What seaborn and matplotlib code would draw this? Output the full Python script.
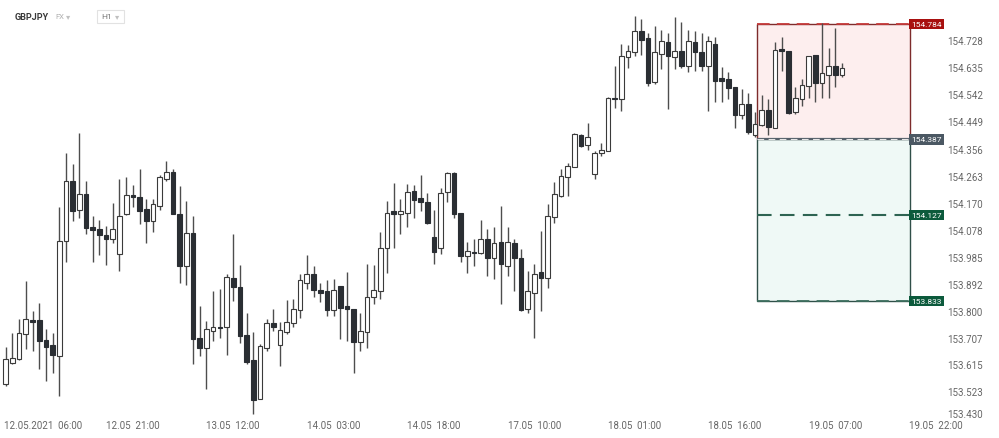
import numpy as np
import pandas as pd
import matplotlib
matplotlib.use('Agg')
import matplotlib.pyplot as plt
import matplotlib.transforms as mtransforms
from matplotlib.patches import Rectangle
import seaborn as sns

# GBPJPY H1 candles
opens = [153.549, 153.621, 153.633, 153.721, 153.768, 153.766, 153.698, 153.681, 153.644, 154.037,
         154.243, 154.144, 154.199, 154.087, 154.079, 154.059, 154.045, 153.993, 154.131, 154.196,
         154.191, 154.148, 154.108, 154.159, 154.253, 154.276, 154.131, 153.953, 154.065, 153.705,
         153.673, 153.730, 153.745, 153.742, 153.911, 153.882, 153.716, 153.631, 153.498, 153.671,
         153.757, 153.682, 153.727, 153.759, 153.802, 153.896, 153.927, 153.870, 153.866, 153.802,
         153.884, 153.814, 153.805, 153.693, 153.725, 153.848, 153.868, 154.013, 154.141, 154.131,
         154.136, 154.210, 154.185, 154.174, 154.051, 154.013, 154.207, 154.272, 154.136, 153.988,
         154.002, 153.999, 154.045, 153.979, 154.034, 153.953, 154.031, 153.982, 153.807, 153.862,
         153.933, 153.913, 154.122, 154.194, 154.257, 154.294, 154.403, 154.368, 154.270, 154.340,
         154.348, 154.531, 154.526, 154.671, 154.688, 154.760, 154.735, 154.583, 154.682, 154.720,
         154.669, 154.689, 154.640, 154.720, 154.688, 154.640, 154.714, 154.598, 154.594, 154.566,
         154.471, 154.508, 154.402, 154.437, 154.488, 154.428, 154.697, 154.692, 154.480, 154.526,
         154.569, 154.677, 154.580, 154.608, 154.638, 154.609]
highs = [153.676, 153.724, 153.770, 153.902, 153.799, 153.827, 153.738, 153.724, 154.157, 154.339,
         154.302, 154.409, 154.243, 154.123, 154.111, 154.091, 154.168, 154.253, 154.257, 154.231,
         154.285, 154.182, 154.182, 154.265, 154.314, 154.285, 154.228, 154.177, 154.125, 153.816,
         153.765, 153.868, 153.873, 153.925, 154.062, 153.957, 153.793, 153.725, 153.685, 153.770,
         153.807, 153.761, 153.837, 153.841, 153.925, 153.990, 153.953, 153.896, 153.904, 153.910,
         153.885, 153.934, 153.805, 153.791, 153.959, 153.957, 154.070, 154.177, 154.237, 154.182,
         154.234, 154.231, 154.265, 154.202, 154.146, 154.222, 154.276, 154.276, 154.136, 154.034,
         154.045, 154.111, 154.079, 154.088, 154.159, 154.088, 154.047, 154.011, 153.936, 153.959,
         154.074, 154.165, 154.240, 154.285, 154.308, 154.409, 154.405, 154.443, 154.348, 154.374,
         154.534, 154.640, 154.714, 154.712, 154.809, 154.802, 154.754, 154.775, 154.764, 154.752,
         154.806, 154.789, 154.764, 154.760, 154.751, 154.741, 154.737, 154.634, 154.619, 154.566,
         154.560, 154.548, 154.480, 154.539, 154.526, 154.720, 154.737, 154.692, 154.566, 154.594,
         154.674, 154.677, 154.785, 154.700, 154.769, 154.651]
lows = [153.541, 153.616, 153.631, 153.667, 153.661, 153.599, 153.559, 153.585, 153.507, 153.965,
        154.108, 154.119, 154.062, 153.967, 153.991, 153.957, 154.033, 153.936, 154.128, 154.157,
        154.096, 154.033, 154.070, 154.144, 154.245, 154.131, 153.896, 153.888, 153.618, 153.644,
        153.532, 153.696, 153.707, 153.647, 153.833, 153.690, 153.616, 153.444, 153.496, 153.662,
        153.730, 153.610, 153.719, 153.745, 153.773, 153.873, 153.845, 153.828, 153.782, 153.782,
        153.704, 153.696, 153.587, 153.662, 153.671, 153.824, 153.839, 153.930, 154.014, 154.062,
        154.088, 154.119, 154.142, 154.096, 153.959, 153.993, 154.171, 154.119, 153.965, 153.930,
        153.953, 153.993, 153.917, 153.910, 153.822, 153.919, 153.868, 153.799, 153.793, 153.707,
        153.799, 153.879, 154.102, 154.188, 154.194, 154.291, 154.360, 154.352, 154.253, 154.331,
        154.346, 154.494, 154.486, 154.631, 154.674, 154.677, 154.569, 154.577, 154.629, 154.491,
        154.629, 154.631, 154.619, 154.623, 154.623, 154.486, 154.514, 154.514, 154.526, 154.428,
        154.457, 154.405, 154.394, 154.434, 154.402, 154.425, 154.623, 154.474, 154.474, 154.503,
        154.531, 154.516, 154.528, 154.531, 154.566, 154.600]
closes = [153.633, 153.639, 153.724, 153.770, 153.762, 153.696, 153.675, 153.648, 154.039, 154.243,
          154.142, 154.199, 154.082, 154.077, 154.060, 154.045, 154.079, 154.125, 154.198, 154.189,
          154.142, 154.108, 154.165, 154.257, 154.276, 154.131, 153.953, 154.065, 153.704, 153.673,
          153.738, 153.745, 153.739, 153.916, 153.881, 153.713, 153.624, 153.493, 153.677, 153.759,
          153.745, 153.735, 153.761, 153.807, 153.904, 153.927, 153.871, 153.862, 153.802, 153.870,
          153.809, 153.807, 153.693, 153.729, 153.848, 153.870, 154.013, 154.136, 154.133, 154.141,
          154.207, 154.180, 154.171, 154.100, 154.002, 154.205, 154.272, 154.132, 153.988, 154.003,
          153.996, 154.047, 153.979, 154.031, 153.959, 154.034, 153.982, 153.802, 153.868, 153.925,
          153.913, 154.125, 154.199, 154.262, 154.297, 154.405, 154.365, 154.394, 154.342, 154.350,
          154.531, 154.526, 154.672, 154.689, 154.760, 154.729, 154.580, 154.686, 154.724, 154.674,
          154.689, 154.640, 154.724, 154.686, 154.640, 154.724, 154.589, 154.589, 154.562, 154.471,
          154.508, 154.413, 154.440, 154.488, 154.431, 154.695, 154.690, 154.478, 154.528, 154.574,
          154.672, 154.580, 154.615, 154.638, 154.609, 154.632]

time_labels = ['12.05.2021  06:00', '12.05  21:00', '13.05  12:00', '14.05  03:00', '14.05  18:00',
               '17.05  10:00', '18.05  01:00', '18.05  16:00', '19.05  07:00', '19.05  22:00']
price_ticks = [153.430, 153.523, 153.615, 153.707, 153.800, 153.892, 153.985, 154.078,
               154.170, 154.263, 154.356, 154.449, 154.542, 154.635, 154.728]

# trade box: take profit / entry / stop levels
tp_level = 154.784
entry_level = 154.387
mid_level = 154.127
sl_level = 153.833
box_bars = (112.3, 135.2)

df = pd.DataFrame({'open': opens, 'high': highs, 'low': lows, 'close': closes})
df['bar'] = np.arange(len(df))
up = df[df.close >= df.open]
down = df[df.close < df.open]

sns.set_theme(style='white')
plt.rcParams['font.family'] = ['Roboto', 'DejaVu Sans']

fig = plt.figure(figsize=(9.99, 4.39), dpi=100)
ax = fig.add_axes([0, 19 / 439, 940 / 999, 420 / 439])

# boxes
x0, x1 = box_bars
ax.add_patch(Rectangle((x0, entry_level), x1 - x0, tp_level - entry_level,
                       facecolor='#fdeeee', edgecolor='#7d2b2b', lw=1, zorder=1))
ax.add_patch(Rectangle((x0, sl_level), x1 - x0, entry_level - sl_level,
                       facecolor='#eff9f6', edgecolor='#2f4f48', lw=1, zorder=1))
ax.hlines(tp_level, x0, x1, color='#c43a3a', lw=1.3, linestyles=(0, (7, 4)), zorder=1.5)
ax.hlines(entry_level, x0, x1, color='#56606a', lw=1.6, zorder=1.5)
ax.hlines(entry_level, x0, x1, color='#e6e6e6', lw=0.8, linestyles=(0, (6, 4)), zorder=1.6)
ax.hlines(mid_level, x0, x1, color='#2e6452', lw=1.5, linestyles=(0, (7, 4)), zorder=1.5)
ax.hlines(sl_level, x0, x1, color='#3d6e5e', lw=1.3, linestyles=(0, (7, 4)), zorder=1.5)

# candles
ax.vlines(df.bar, df.low, df.high, color='#4d4d4d', lw=1, zorder=2)
ax.bar(up.bar, (up.close - up.open).clip(lower=0.004), bottom=up.open, width=0.7,
       color='white', edgecolor='#3a3a3a', lw=0.8, zorder=3)
ax.bar(down.bar, (down.open - down.close).clip(lower=0.004), bottom=down.close, width=0.7,
       color='#2a2e33', edgecolor='#2a2e33', lw=0.8, zorder=3)

# level labels
for lvl, col in [(tp_level, '#a8100f'), (entry_level, '#4b5863'),
                 (mid_level, '#0c5a3c'), (sl_level, '#0c5a3c')]:
    ax.text(x1 + 0.15, lvl, f'{lvl:.3f}', color='white', fontsize=6, ha='left', va='center',
            clip_on=False, zorder=5,
            bbox=dict(boxstyle='square,pad=0.25', facecolor=col, edgecolor='none'))

ax.set_xlim(-0.86, 139.64)
ax.set_ylim(153.428, 154.869)
ax.yaxis.tick_right()
ax.set_yticks(price_ticks)
ax.set_yticklabels([f'{p:.3f}' for p in price_ticks])
ax.set_xticks(np.arange(4, 140, 15))
ax.set_xticklabels(time_labels)
ax.tick_params(axis='y', length=0, pad=5, labelsize=7, labelcolor='#666666')
ax.tick_params(axis='x', length=0, pad=1, labelsize=7, labelcolor='#666666')
first = ax.get_xticklabels()[0]
first.set_transform(first.get_transform() + mtransforms.ScaledTranslation(10.5 / 100, 0, fig.dpi_scale_trans))
# lowest price label sits a little higher, clear of the time axis
lowest = ax.get_yticklabels()[0]
lowest.set_transform(lowest.get_transform() + mtransforms.ScaledTranslation(0, 5 / 100, fig.dpi_scale_trans))
for s in ax.spines.values():
    s.set_visible(False)
ax.grid(False)

# header
fig.text(15 / 999, 1 - 17 / 439, 'GBPJPY', fontsize=6.5, fontweight='bold', color='#3a3a3a', va='center')
fig.text(55 / 999, 1 - 17 / 439, 'FX', fontsize=5.5, color='#b0b0b0', va='center')
fig.text(66 / 999, 1 - 17 / 439, '▾', fontsize=6, color='#c0c0c0', va='center')
fig.patches.append(Rectangle((97 / 999, 1 - 24 / 439), 27 / 999, 13 / 439, transform=fig.transFigure,
                             facecolor='white', edgecolor='#e2e2e2', lw=0.8))
fig.text(101 / 999, 1 - 17 / 439, 'H1', fontsize=6, color='#777777', va='center')
fig.text(115 / 999, 1 - 17 / 439, '▾', fontsize=6, color='#c0c0c0', va='center')

fig.savefig('out.png', dpi=100)
